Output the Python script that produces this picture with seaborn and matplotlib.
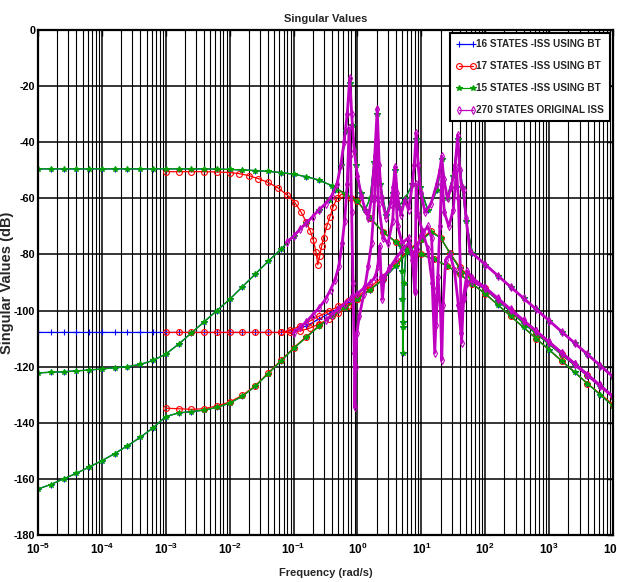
import matplotlib
matplotlib.use("Agg")
import numpy as np
import pandas as pd
import matplotlib.pyplot as plt
import seaborn as sns
from matplotlib import font_manager
from matplotlib.lines import Line2D
from matplotlib.ticker import FixedLocator, NullFormatter

# ---------------- data: (log10 frequency [rad/s], singular value [dB]) ----------------
# 15 STATES (green)
g1 = [(-5.0,-49.5),(-4.8,-49.5),(-4.6,-49.5),(-4.4,-49.5),(-4.2,-49.5),(-4.0,-49.5),(-3.8,-49.5),
      (-3.6,-49.5),(-3.4,-49.5),(-3.2,-49.5),(-3.0,-49.5),(-2.8,-49.5),(-2.6,-49.5),(-2.4,-49.5),
      (-2.2,-49.6),(-2.0,-49.7),(-1.8,-49.9),(-1.6,-50.1),(-1.4,-50.4),(-1.2,-50.8),(-1.0,-51.4),
      (-0.8,-52.3),(-0.6,-53.5),(-0.4,-55.5),(-0.2,-58.3),(0.0,-61.0),(0.2,-67.0),(0.4,-72.0),
      (0.6,-75.5),(0.68,-77.0),(0.70,-86.0),(0.705,-96.0),(0.71,-106.0),(0.715,-115.0),(0.72,-104.0),
      (0.73,-90.0),(0.76,-78.0),(0.8,-78.5),(1.0,-80.0),(1.2,-81.8),(1.4,-84.0),(1.6,-87.0),
      (1.8,-90.5),(2.0,-94.0),(2.2,-98.0),(2.4,-102.0),(2.6,-106.0),(2.8,-110.0),(3.0,-114.0),
      (3.2,-118.0),(3.4,-122.0),(3.6,-126.0),(3.8,-130.0),(4.0,-134.0)]
g2 = [(-5.0,-122.2),(-4.8,-122.0),(-4.6,-121.8),(-4.4,-121.5),(-4.2,-121.2),(-4.0,-120.8),(-3.8,-120.4),
      (-3.6,-120.0),(-3.4,-119.2),(-3.2,-117.8),(-3.0,-115.5),(-2.8,-112.0),(-2.6,-108.0),(-2.4,-104.0),
      (-2.2,-100.0),(-2.0,-96.0),(-1.8,-91.5),(-1.6,-87.0),(-1.4,-82.5),(-1.2,-78.2),(-1.0,-73.5),
      (-0.8,-68.8),(-0.6,-64.0),(-0.45,-60.5),(-0.35,-57.0),(-0.25,-48.0),(-0.18,-36.0),(-0.12,-19.0),
      (-0.08,-34.0),(-0.02,-48.0),(0.05,-58.0),(0.12,-64.0),(0.2,-60.0),(0.26,-47.0),(0.31,-30.0),
      (0.36,-55.0),(0.45,-66.0),(0.55,-58.0),(0.59,-50.0),(0.64,-63.0),(0.75,-60.0),(0.86,-55.0),
      (0.92,-39.0),(0.98,-56.0),(1.1,-64.0),(1.25,-57.0),(1.32,-46.0),(1.4,-60.0),(1.5,-52.0),
      (1.57,-39.0),(1.64,-56.0),(1.7,-68.0),(1.8,-79.6),(2.0,-83.6),(2.2,-87.6),(2.4,-91.6),
      (2.6,-95.6),(2.8,-99.6),(3.0,-103.6),(3.2,-107.6),(3.4,-111.6),(3.6,-115.6),(3.8,-119.6),
      (4.0,-123.6)]
g3 = [(-5.0,-163.6),(-4.8,-162.0),(-4.6,-160.0),(-4.4,-158.0),(-4.2,-155.8),(-4.0,-153.5),(-3.8,-151.0),
      (-3.6,-148.2),(-3.4,-145.2),(-3.2,-141.8),(-3.0,-137.8),(-2.8,-136.5),(-2.6,-136.0),(-2.4,-135.5),
      (-2.2,-134.5),(-2.0,-133.0),(-1.8,-130.5),(-1.6,-127.0),(-1.4,-122.5),(-1.2,-118.0),(-1.0,-113.5),
      (-0.8,-109.5),(-0.6,-105.5),(-0.4,-102.0),(-0.2,-99.0),(0.0,-96.0),(0.2,-92.5),(0.4,-89.0),
      (0.6,-84.0),(0.8,-79.0),(1.0,-75.0),(1.15,-72.0),(1.3,-74.0),(1.45,-79.6),(1.6,-85.0),
      (1.8,-89.5),(2.0,-92.5),(2.2,-96.5),(2.4,-100.5),(2.6,-104.5),(2.8,-108.3),(3.0,-112.0),
      (3.2,-115.8),(3.4,-119.5),(3.6,-123.2),(3.8,-127.0),(4.0,-130.7)]

# 16 STATES (blue): same three curves as above plus a flat one at -108 dB
b4 = [(-5.0,-107.8),(-4.8,-107.8),(-4.6,-107.8),(-4.4,-107.8),(-4.2,-107.8),(-4.0,-107.8),(-3.8,-107.8),
      (-3.6,-107.8),(-3.4,-107.8),(-3.2,-107.8),(-3.0,-107.8),(-2.8,-107.8),(-2.6,-107.8),(-2.4,-107.8),
      (-2.2,-107.8),(-2.0,-107.8),(-1.8,-107.8),(-1.6,-107.8),(-1.4,-107.8),(-1.2,-107.8),(-1.0,-107.0),
      (-0.8,-105.5),(-0.6,-103.0),(-0.4,-100.5),(-0.2,-98.0),(0.0,-95.5),(0.2,-92.5)]

# 17 STATES (red)
r1 = [(-3.0,-50.5),(-2.8,-50.5),(-2.6,-50.5),(-2.4,-50.5),(-2.2,-50.6),(-2.0,-50.8),(-1.85,-51.2),
      (-1.7,-51.9),(-1.55,-53.0),(-1.4,-54.3),(-1.25,-56.2),(-1.1,-58.8),(-0.98,-61.5),(-0.88,-65.0),
      (-0.8,-68.5),(-0.74,-71.5),(-0.69,-75.0),(-0.65,-79.0),(-0.62,-83.7),(-0.59,-80.5),(-0.56,-77.0),
      (-0.53,-74.0),(-0.48,-70.0),(-0.43,-66.5),(-0.38,-63.0),(-0.32,-60.0),(-0.25,-58.5),(-0.1,-59.8),
      (0.0,-61.0),(0.2,-67.0),(0.4,-72.0),(0.6,-75.5),(0.8,-78.5),(1.0,-80.0),(1.2,-81.8),(1.4,-84.0),
      (1.6,-87.0),(1.8,-90.5),(2.0,-94.0),(2.4,-102.0),(2.8,-110.0),(3.2,-118.0),(3.6,-126.0),(4.0,-133.5)]
r2 = [(-3.0,-107.8),(-2.8,-107.8),(-2.6,-107.8),(-2.4,-107.8),(-2.2,-107.8),(-2.0,-107.8),(-1.8,-107.8),
      (-1.6,-107.8),(-1.4,-107.8),(-1.2,-107.8),(-1.05,-107.0),(-0.9,-105.5),(-0.75,-103.8),(-0.6,-102.0),
      (-0.45,-100.3),(-0.3,-98.5),(-0.15,-96.5),(0.0,-95.0),(0.2,-91.5),(0.4,-88.0),(0.6,-83.0),
      (0.8,-78.5),(1.0,-74.5),(1.15,-71.5),(1.3,-74.0),(1.45,-79.6),(1.6,-84.5),(1.8,-89.0),(2.0,-92.0),
      (2.4,-100.0),(2.8,-108.0),(3.2,-115.5),(3.6,-123.0),(4.0,-130.5)]
r2b = [(-1.2,-107.8),(-1.05,-107.8),(-0.9,-107.3),(-0.75,-106.3),(-0.6,-104.8),(-0.45,-103.0),
       (-0.3,-101.0),(-0.15,-98.5),(0.0,-96.0)]
r3 = [(-3.0,-134.8),(-2.8,-135.0),(-2.6,-135.2),(-2.4,-135.0),(-2.2,-134.0),(-2.0,-132.6),(-1.8,-130.2),
      (-1.6,-126.8),(-1.4,-122.3),(-1.2,-117.8),(-1.0,-113.3),(-0.8,-109.3),(-0.6,-105.3),(-0.4,-101.8),
      (-0.2,-98.8),(0.0,-95.8),(0.2,-92.3),(0.4,-88.8)]

# 270 STATES ORIGINAL (magenta)
ma = [(-1.1,-75.5),(-1.0,-73.5),(-0.9,-71.0),(-0.8,-68.8),(-0.7,-66.5),(-0.6,-64.0),(-0.5,-62.0),
      (-0.4,-59.0),(-0.32,-55.0),(-0.26,-48.0),(-0.21,-40.0),(-0.16,-30.0),(-0.12,-17.0),(-0.09,-30.0),
      (-0.05,-43.0),(0.0,-52.0),(0.06,-59.0),(0.12,-64.0),(0.17,-67.0),(0.22,-60.0),(0.27,-45.0),
      (0.31,-28.0),(0.34,-48.0),(0.38,-60.0),(0.45,-67.0),(0.52,-62.0),(0.56,-56.0),(0.59,-48.7),
      (0.62,-58.0),(0.68,-66.0),(0.74,-60.6),(0.8,-64.0),(0.86,-55.0),(0.89,-48.0),(0.92,-36.8),
      (0.95,-48.0),(0.99,-58.0),(1.06,-65.0),(1.15,-62.0),(1.24,-55.0),(1.29,-50.0),(1.32,-45.0),
      (1.35,-53.0),(1.41,-60.0),(1.47,-56.0),(1.53,-48.0),(1.57,-37.4),(1.6,-50.0),(1.63,-56.0),
      (1.66,-57.0),(1.7,-67.0),(1.76,-78.8),(2.0,-83.6),(2.2,-87.6),(2.4,-91.6),(2.6,-95.6),
      (2.8,-99.6),(3.0,-103.6),(3.2,-107.6),(3.4,-111.6),(3.6,-115.6),(3.8,-119.6),(4.0,-123.6)]
mb = [(-1.0,-108.0),(-0.9,-106.0),(-0.8,-104.0),(-0.7,-101.5),(-0.6,-99.0),(-0.5,-96.0),(-0.42,-92.5),
      (-0.35,-89.0),(-0.29,-84.0),(-0.24,-76.0),(-0.2,-68.0),(-0.16,-55.0),(-0.13,-35.0),(-0.11,-45.0),
      (-0.09,-65.0),(-0.07,-90.0),(-0.05,-115.0),(-0.04,-134.5),(-0.03,-120.0),(-0.01,-108.0),
      (0.03,-102.0),(0.1,-94.0),(0.17,-84.0),(0.22,-76.0),(0.27,-60.0),(0.3,-40.0),(0.33,-62.0),
      (0.4,-74.0),(0.48,-76.0),(0.55,-68.0),(0.59,-55.0),(0.63,-70.0),(0.7,-76.0),(0.8,-74.0),
      (0.86,-82.0),(0.9,-93.4),(0.92,-55.0),(0.95,-66.0),(1.02,-72.0),(1.1,-78.0),(1.17,-90.0),
      (1.21,-115.0),(1.25,-92.0),(1.29,-70.0),(1.32,-52.0),(1.36,-65.0),(1.43,-70.0),(1.5,-64.0),
      (1.55,-50.0),(1.58,-60.0),(1.61,-85.0),(1.63,-111.5),(1.66,-95.0),(1.72,-86.0),(1.8,-88.5),
      (2.0,-91.8),(2.2,-95.7),(2.4,-99.6),(2.6,-103.5),(2.8,-107.4),(3.0,-111.3),(3.2,-115.2),
      (3.4,-119.1),(3.6,-123.0),(3.8,-126.9),(4.0,-130.7)]
mc = [(-0.5,-103.5),(-0.4,-101.5),(-0.3,-99.5),(-0.2,-97.5),(-0.1,-95.5),(0.0,-94.0),(0.1,-92.0),
      (0.2,-90.0),(0.28,-88.0),(0.32,-84.0),(0.35,-77.0),(0.37,-88.0),(0.39,-96.0),(0.42,-88.0),
      (0.5,-85.0),(0.6,-81.5),(0.7,-78.5),(0.8,-76.0),(0.87,-80.0),(0.9,-93.0),(0.93,-78.0),(1.0,-73.0),
      (1.1,-70.0),(1.16,-74.0),(1.2,-95.0),(1.23,-105.0),(1.26,-88.0),(1.3,-100.0),(1.32,-117.6),
      (1.34,-98.0),(1.38,-82.0),(1.45,-80.0),(1.52,-86.0),(1.58,-98.0),(1.62,-108.0),(1.66,-96.0),
      (1.72,-90.0),(1.8,-89.5),(2.0,-92.0),(2.2,-95.9),(2.4,-99.8),(2.6,-103.6),(2.8,-107.4),
      (3.0,-111.2),(3.2,-115.1),(3.4,-118.9),(3.6,-122.8),(3.8,-126.7),(4.0,-130.7)]

labels = ["16 STATES -ISS USING BT", "17 STATES -ISS USING BT",
          "15 STATES -ISS USING BT", "270 STATES ORIGINAL ISS"]
x_decades = [-5, -4, -3, -2, -1, 0, 1, 2, 3, 4]
y_ticks = [-180, -160, -140, -120, -100, -80, -60, -40, -20, 0]

# ---------------- style ----------------
sns.set_style("white")
avail = {f.name for f in font_manager.fontManager.ttflist}
narrow = "Liberation Sans Narrow" if "Liberation Sans Narrow" in avail else "Liberation Sans"
plt.rcParams["font.family"] = [narrow, "DejaVu Sans"]
plt.rcParams["mathtext.fontset"] = "custom"
plt.rcParams["mathtext.rm"] = narrow
plt.rcParams["mathtext.bf"] = narrow + ":bold"

fig = plt.figure(figsize=(6.17, 5.82), dpi=100)
ax = fig.add_axes([38 / 617, 1 - 535 / 582, 575 / 617, 505 / 582])
ax.set_xscale("log")

systems = [
    ("blue", "+", "blue", 0.9, [g1, g2, g3, b4]),
    ("red", "o", "none", 0.9, [r1, r2, r2b, r3]),
    ("#00a000", "*", "#00a000", 1.0, [g1, g2, g3]),
    ("#c000c0", "d", "none", 2.0, [ma, mb, mc]),
]

for color, marker, mfc, lw, curves in systems:
    for curve in curves:
        d = pd.DataFrame(curve, columns=["lf", "db"])
        d["f"] = 10.0 ** d["lf"]
        sns.lineplot(data=d, x="f", y="db", ax=ax, estimator=None, sort=False,
                     color=color, lw=lw, marker=marker, markersize=4.2,
                     markeredgecolor=color, markerfacecolor=mfc,
                     markeredgewidth=0.8, legend=False)

ax.set_xlim(1e-5, 1e4)
ax.set_ylim(-180, 0)

ax.xaxis.set_major_locator(FixedLocator([10.0 ** k for k in x_decades]))
ax.xaxis.set_minor_locator(FixedLocator([m * 10.0 ** k for k in x_decades[:-1] for m in range(2, 10)]))
ax.xaxis.set_minor_formatter(NullFormatter())
ax.set_xticklabels([r"$\mathbf{10^{%d}}$" % k for k in x_decades])
ax.set_yticks(y_ticks)
ax.set_yticklabels([str(v) for v in y_ticks], fontweight="bold")
ax.tick_params(axis="both", which="both", direction="in", top=True, right=True, colors="black")
ax.tick_params(axis="x", which="major", labelsize=8.5, pad=5, length=4, width=1)
ax.tick_params(axis="y", which="major", labelsize=7.8, pad=2, length=4, width=1)
ax.tick_params(axis="x", which="minor", length=2, width=0.8)

ax.grid(True, which="major", axis="both", color="black", lw=1.1)
ax.grid(True, which="minor", axis="x", color="black", lw=0.8)
ax.set_axisbelow(True)
for s in ax.spines.values():
    s.set_color("black")
    s.set_linewidth(1.6)
    s.set_visible(True)

ax.set_title("Singular Values", fontsize=8, fontweight="bold", pad=6)
ax.set_xlabel("Frequency (rad/s)", fontsize=8, fontweight="bold", labelpad=8)
ax.set_ylabel("Singular Values (dB)", fontsize=10.5, fontweight="bold",
              family=["Liberation Sans", "DejaVu Sans"])
ax.yaxis.set_label_coords(-0.042, 0.5)

handles = []
for color, marker, mfc, lw, _ in systems:
    handles.append(Line2D([], [], color=color, lw=0.9, marker=marker, markersize=4.2,
                          markeredgecolor=color, markerfacecolor=mfc, markeredgewidth=0.8))
leg = ax.legend(handles, labels, loc="upper right", numpoints=2,
                prop={"weight": "bold", "size": 7.2}, frameon=True, fancybox=False,
                edgecolor="black", framealpha=1, borderaxespad=0.3, handlelength=2.0,
                handletextpad=0.05, labelspacing=1.2, borderpad=0.6)
leg.get_frame().set_linewidth(1.5)

fig.savefig("out.png", dpi=100)
